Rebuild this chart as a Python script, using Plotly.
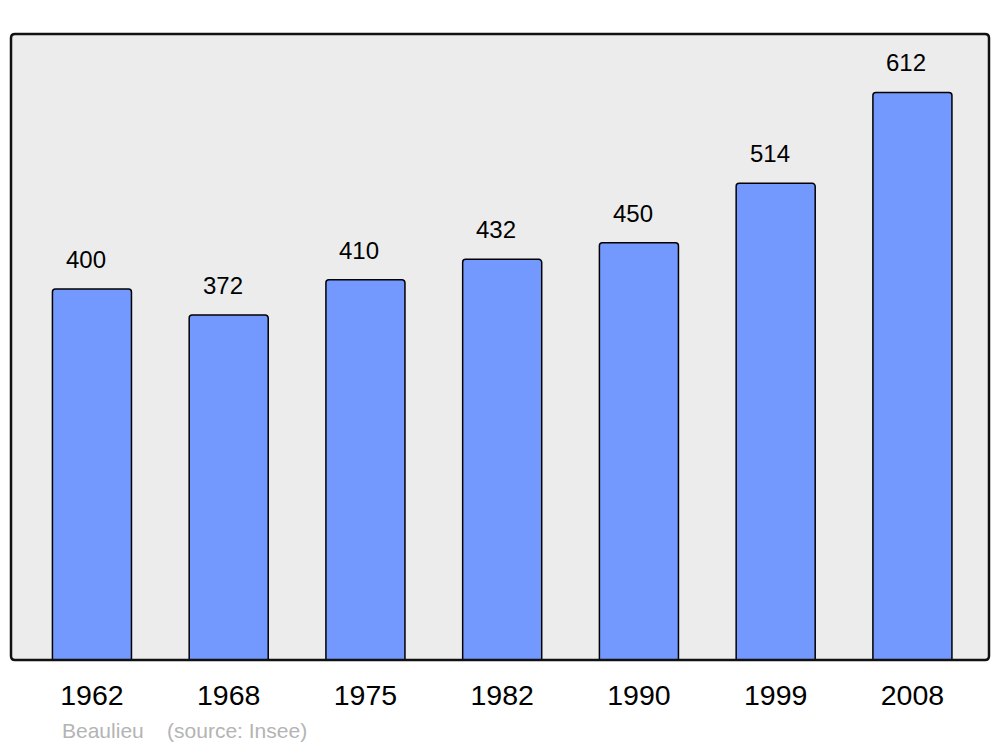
import plotly.graph_objects as go

years = ["1962", "1968", "1975", "1982", "1990", "1999", "2008"]
population = [400, 372, 410, 432, 450, 514, 612]
place = "Beaulieu"
source = "(source: Insee)"

fig = go.Figure()
fig.add_trace(go.Bar(
    x=years, y=population, width=0.578,
    marker=dict(color="#7399ff", line=dict(color="#000000", width=1.5), cornerradius=3),
    hoverinfo="x+y",
))

for i, v in enumerate(population):
    fig.add_annotation(x=i, y=v, text=str(v), showarrow=False, yanchor="bottom",
                       yshift=14, xshift=-6,
                       font=dict(family="Liberation Sans, Arial", size=24, color="#000"))

fig.add_annotation(xref="paper", yref="paper", x=0.050, y=-0.112, xanchor="left", yanchor="middle",
                   text=place + "&nbsp;&nbsp;&nbsp;&nbsp;" + source, showarrow=False,
                   font=dict(family="Liberation Sans, Arial", size=21, color="#b4b4b4"))

# rounded plot border
rx, ry = 4 / 978, 4 / 626
path = (f"M {rx},0 L {1-rx},0 Q 1,0 1,{ry} L 1,{1-ry} Q 1,1 {1-rx},1 "
        f"L {rx},1 Q 0,1 0,{1-ry} L 0,{ry} Q 0,0 {rx},0 Z")
fig.add_shape(type="path", xref="paper", yref="paper", path=path,
              line=dict(color="#111111", width=2.5), layer="above")

fig.update_layout(
    width=984, height=739,
    margin=dict(l=3, r=3, t=26, b=87),
    paper_bgcolor="#ffffff", plot_bgcolor="#ececec",
    showlegend=False,
    font=dict(family="Liberation Sans, Arial", color="#000"),
    xaxis=dict(type="category", range=[-0.592, 6.56], showgrid=False, zeroline=False,
               showline=False, ticks="outside", ticklen=10, tickcolor="rgba(0,0,0,0)",
               tickfont=dict(size=28.5, color="#000")),
    yaxis=dict(range=[0, 675], showgrid=False, zeroline=False, showticklabels=False,
               showline=False),
)

fig.write_html("out.html")
